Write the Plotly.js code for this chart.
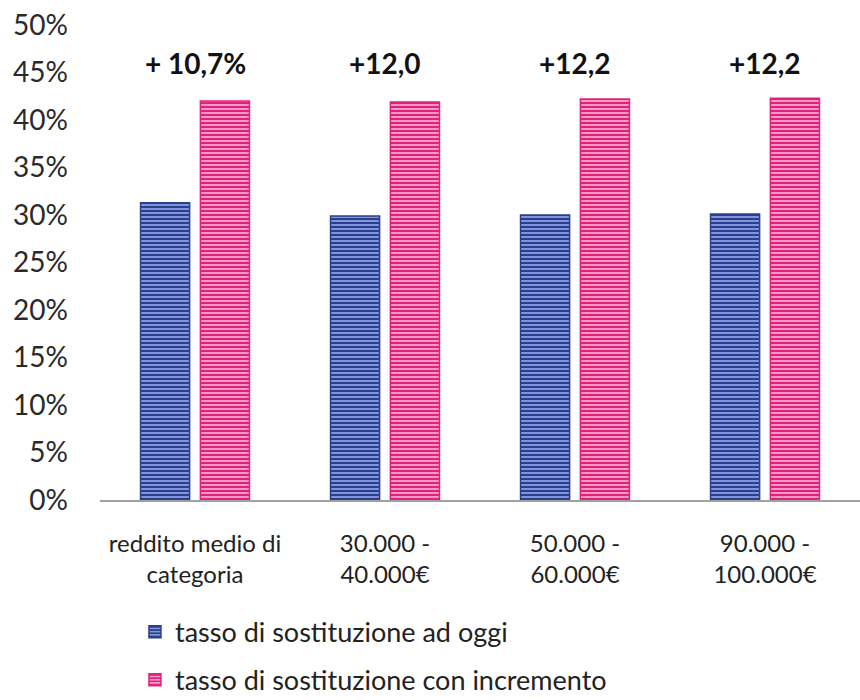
<!DOCTYPE html>
<html>
<head>
<meta charset="utf-8">
<script src="https://cdn.plot.ly/plotly-3.0.1.min.js"></script>
<style>html,body{margin:0;padding:0;background:#fff;}#chart{width:860px;height:700px;}</style>
</head>
<body>
<div id="chart"></div>
<script>
const categories = ["reddito medio di<br>categoria", "30.000 -<br>40.000€", "50.000 -<br>60.000€", "90.000 -<br>100.000€"];
const seriesNames = ["tasso di sostituzione ad oggi", "tasso di sostituzione con incremento"];
const valuesToday = [31.3, 29.9, 30.0, 30.1];
const valuesIncrement = [42.0, 41.9, 42.2, 42.3];
const deltaLabels = ["+ 10,7%", "+12,0", "+12,2", "+12,2"];
const deltaLabelLevel = [46.0, 46.0, 46.0, 46.0];
const yTickValues = [0, 5, 10, 15, 20, 25, 30, 35, 40, 45, 50];
const yTickLabels = yTickValues.map(v => v + "%");

const fontFam = "Lato, 'Liberation Sans', sans-serif";

const traces = [
  {
    type: "bar", x: categories, y: valuesToday, name: seriesNames[0], legendgroup: "a",
    marker: {
      color: "#7f96d8",
      line: {color: "#2b3f8f", width: 1.5},
      pattern: {shape: "-", fgcolor: "#2b3f8f", bgcolor: "#8aa0e0", size: 4, solidity: 0.55, fillmode: "replace"}
    },
    hoverinfo: "none"
  },
  {
    type: "bar", x: categories, y: valuesIncrement, name: seriesNames[1], legendgroup: "b",
    marker: {
      color: "#f5a3c8",
      line: {color: "#e2217c", width: 1.5},
      pattern: {shape: "-", fgcolor: "#e2217c", bgcolor: "#f7a8cc", size: 4, solidity: 0.55, fillmode: "replace"}
    },
    hoverinfo: "none"
  }
];

const annotations = categories.map((c, i) => ({
  x: c, y: deltaLabelLevel[i], xref: "x", yref: "y", text: deltaLabels[i], showarrow: false,
  font: {family: fontFam, size: 28, color: "#111", weight: "bold"}, yanchor: "middle"
}));

const layout = {
  width: 860, height: 700,
  margin: {l: 100, r: 0, t: 25, b: 200, autoexpand: false},
  paper_bgcolor: "#fff", plot_bgcolor: "#fff",
  barmode: "group", bargap: 0.37, bargroupgap: 0.18,
  showlegend: true,
  legend: {
    orientation: "v", x: 0.046, xanchor: "left", yref: "container", y: 0.132, yanchor: "top",
    font: {family: fontFam, size: 27, color: "#222"}, tracegroupgap: 10,
    itemwidth: 30
  },
  xaxis: {
    type: "category", showgrid: false, showline: true, linecolor: "#a0a0a0", linewidth: 2,
    ticks: "", ticklabelstandoff: 21,
    tickfont: {family: fontFam, size: 24, color: "#222"}, fixedrange: true
  },
  yaxis: {
    range: [0, 50], tickvals: yTickValues, ticktext: yTickLabels, showgrid: false, zeroline: false,
    showline: false, ticks: "", ticklabelstandoff: 31,
    tickfont: {family: fontFam, size: 28, color: "#2a2a2a"}, fixedrange: true
  },
  annotations: annotations
};

Plotly.newPlot("chart", traces, layout, {displayModeBar: false, staticPlot: true});
</script>
</body>
</html>
